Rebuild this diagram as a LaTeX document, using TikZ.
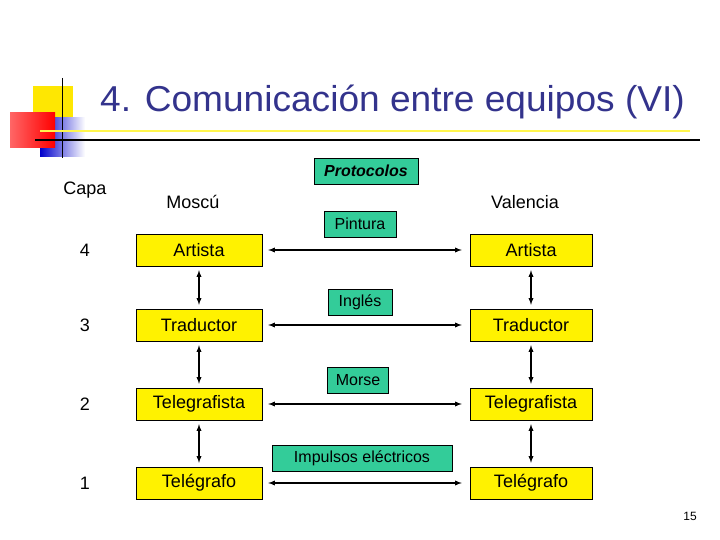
\documentclass[tikz,border=0pt]{standalone}
\usepackage{fontspec}
\setmainfont{Liberation Sans}
\definecolor{ttl}{RGB}{51,51,140}
\definecolor{teal}{RGB}{51,204,153}
\begin{document}
\begin{tikzpicture}[x=1pt,y=-1pt,
 box/.style={draw=black,fill=yellow,minimum width=126,minimum height=32,inner sep=0,font=\fontsize{18}{20}\selectfont},
 lab/.style={draw=black,fill=teal,inner sep=0,minimum height=26,font=\fontsize{16}{18}\selectfont},
 txt/.style={font=\fontsize{18}{20}\selectfont},
 arr/.style={<->,>=latex,line width=1.3}]
\useasboundingbox (0,0) rectangle (720,540);
% logo
\fill[yellow!90!orange] (33,86) rectangle (73,120);
\shade[left color=blue!80!black,right color=white] (40,118) rectangle (85,157);
\shade[left color=red!60,right color=red] (10,113) rectangle (55,148);
\draw[thick] (62,78) -- (62,158);
\draw[yellow!70,line width=1.5] (40,131) -- (690,131);
\draw[line width=1.5] (35,140) -- (700,140);
\node[text=ttl,font=\fontsize{36}{40}\selectfont,xscale=1.03,anchor=west,inner sep=0] (title) at (100,102) {4. Comunicación entre equipos (VI)};
\node[txt] (capa) at (85,190) {Capa};
\node[txt] (mos) at (193,202) {Moscú};
\node[txt] (val) at (525,202) {Valencia};
\node[lab,minimum width=104,font=\fontsize{16}{18}\selectfont\bfseries\itshape] (prot) at (366,171) {Protocolos};
\foreach \n/\y/\l/\r in {4/250/Artista/Artista,3/325/Traductor/Traductor,2/404/Telegrafista/Telegrafista,1/483/Telégrafo/Telégrafo}{
 \node[txt] (n\n) at (85,\y) {\n};
 \node[box] (L\n) at (199,\y) {\l};
 \node[box,minimum width=122] (R\n) at (531,\y) {\r};
 \draw[arr] (L\n.east) ++(6,0) coordinate (a\n) -- ([xshift=-8]R\n.west);
}
\node[lab,minimum width=72] (p4) at (360,224) {Pintura};
\node[lab,minimum width=64] (p3) at (360,302) {Inglés};
\node[lab,minimum width=61] (p2) at (358,380) {Morse};
\node[lab,minimum width=180] (p1) at (362,458) {Impulsos eléctricos};
\foreach \a/\b in {4/3,3/2,2/1}{
 \draw[arr] ([yshift=-4]L\a.south) -- ([yshift=4]L\b.north);
 \draw[arr] ([yshift=-4]R\a.south) -- ([yshift=4]R\b.north);
}
\node[font=\fontsize{12}{14}\selectfont] (pg) at (690,516) {15};
\end{tikzpicture}
\end{document}
